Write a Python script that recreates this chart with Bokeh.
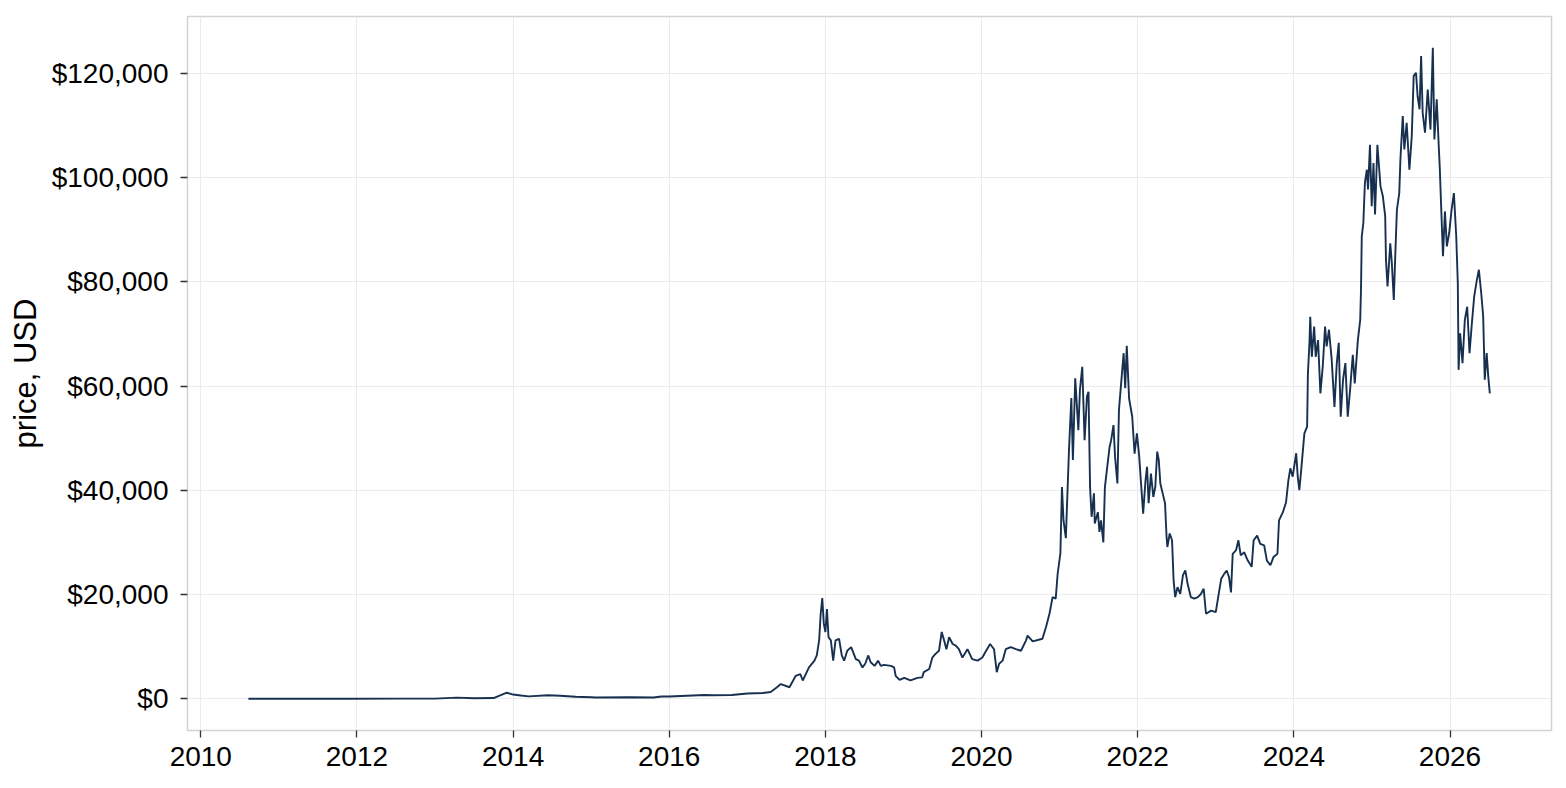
from bokeh.plotting import figure
from bokeh.models import FixedTicker, NumeralTickFormatter, Range1d
from bokeh.embed import file_html
from bokeh.resources import INLINE

# Decimal year of each observation
years = [
    2010.61, 2011.0, 2011.45, 2011.9, 2012.5, 2013.0, 2013.28, 2013.5, 2013.75, 2013.92,
    2014.0, 2014.1, 2014.2, 2014.45, 2014.6, 2014.8, 2015.0, 2015.05, 2015.5, 2015.8,
    2015.9, 2016.0, 2016.45, 2016.55, 2016.8, 2017.0, 2017.2, 2017.3, 2017.38, 2017.43,
    2017.54, 2017.62, 2017.68, 2017.71, 2017.79, 2017.86, 2017.89, 2017.92, 2017.94, 2017.96,
    2017.98, 2018.00, 2018.02, 2018.04, 2018.07, 2018.10, 2018.13, 2018.175, 2018.21, 2018.24,
    2018.28, 2018.33, 2018.39, 2018.43, 2018.475, 2018.51, 2018.55, 2018.58, 2018.63, 2018.675,
    2018.71, 2018.75, 2018.84, 2018.88, 2018.90, 2018.95, 2019.01, 2019.09, 2019.18, 2019.24,
    2019.26, 2019.33, 2019.37, 2019.41, 2019.455, 2019.49, 2019.52, 2019.55, 2019.585, 2019.63,
    2019.67, 2019.71, 2019.755, 2019.82, 2019.88, 2019.95, 2020.01, 2020.07, 2020.11, 2020.16,
    2020.195, 2020.225, 2020.27, 2020.31, 2020.375, 2020.44, 2020.505, 2020.57, 2020.59, 2020.655,
    2020.78, 2020.825, 2020.87, 2020.91, 2020.95, 2020.975, 2021.01, 2021.03, 2021.05, 2021.08,
    2021.10, 2021.12, 2021.15, 2021.17, 2021.20, 2021.24, 2021.26, 2021.29, 2021.32, 2021.35,
    2021.37, 2021.39, 2021.41, 2021.44, 2021.45, 2021.49, 2021.51, 2021.53, 2021.56, 2021.58,
    2021.61, 2021.64, 2021.66, 2021.69, 2021.71, 2021.74, 2021.76, 2021.795, 2021.82, 2021.84,
    2021.86, 2021.89, 2021.93, 2021.96, 2021.99, 2022.02, 2022.04, 2022.07, 2022.10, 2022.12,
    2022.14, 2022.17, 2022.20, 2022.225, 2022.25, 2022.27, 2022.29, 2022.32, 2022.35, 2022.37,
    2022.38, 2022.41, 2022.44, 2022.46, 2022.48, 2022.51, 2022.545, 2022.58, 2022.61, 2022.64,
    2022.68, 2022.725, 2022.77, 2022.81, 2022.845, 2022.875, 2022.94, 2023.00, 2023.045, 2023.07,
    2023.11, 2023.14, 2023.17, 2023.195, 2023.217, 2023.26, 2023.29, 2023.32, 2023.365, 2023.41,
    2023.46, 2023.485, 2023.53, 2023.57, 2023.62, 2023.655, 2023.70, 2023.74, 2023.79, 2023.81,
    2023.86, 2023.90, 2023.93, 2023.955, 2023.985, 2024.03, 2024.05, 2024.07, 2024.09, 2024.135,
    2024.17, 2024.18, 2024.20, 2024.21, 2024.23, 2024.26, 2024.28, 2024.31, 2024.34, 2024.37,
    2024.40, 2024.42, 2024.45, 2024.485, 2024.52, 2024.55, 2024.575, 2024.60, 2024.63, 2024.66,
    2024.69, 2024.72, 2024.755, 2024.78, 2024.82, 2024.85, 2024.86, 2024.87, 2024.89, 2024.91,
    2024.935, 2024.95, 2024.975, 2024.997, 2025.02, 2025.04, 2025.07, 2025.11, 2025.14, 2025.17,
    2025.18, 2025.20, 2025.235, 2025.255, 2025.28, 2025.30, 2025.32, 2025.35, 2025.365, 2025.395,
    2025.415, 2025.445, 2025.48, 2025.51, 2025.535, 2025.565, 2025.585, 2025.61, 2025.63, 2025.65,
    2025.68, 2025.715, 2025.75, 2025.78, 2025.80, 2025.83, 2025.856, 2025.87, 2025.885, 2025.91,
    2025.935, 2025.96, 2025.99, 2026.02, 2026.05, 2026.08, 2026.10, 2026.11, 2026.13, 2026.16,
    2026.19, 2026.22, 2026.25, 2026.28, 2026.31, 2026.345, 2026.37, 2026.40, 2026.425, 2026.445,
    2026.47, 2026.49, 2026.51,
]

# Price in US dollars
price_usd = [
    0.07, 0.3, 15, 3, 7, 13, 200, 90, 130, 1150,
    800, 620, 450, 650, 580, 380, 280, 220, 270, 240,
    420, 430, 700, 650, 700, 1000, 1100, 1300, 2200, 2800,
    2200, 4400, 4700, 3500, 6000, 7300, 8300, 11200, 16300, 19300,
    14400, 12800, 17200, 11800, 11200, 7300, 11200, 11500, 8300, 7300,
    9200, 9900, 7600, 7300, 6000, 6700, 8300, 7000, 6300, 7300,
    6300, 6500, 6300, 6000, 4400, 3600, 4000, 3500, 4000, 4100,
    5100, 5700, 7900, 8600, 9200, 12800, 11200, 9500, 11800, 10500,
    10200, 9500, 7900, 9500, 7600, 7300, 7900, 9500, 10500, 9500,
    5100, 6700, 7300, 9500, 9900, 9500, 9200, 11200, 12100, 11000,
    11500, 13700, 16300, 19500, 19200, 24000, 27900, 40600, 34200, 30800,
    39400, 47700, 57700, 45800, 61500, 51500, 59200, 63700, 49600, 58000,
    58900, 40600, 34900, 39400, 33600, 35800, 32000, 34200, 30000, 40600,
    44500, 48300, 49600, 52500, 46400, 41300, 55400, 61800, 66300, 59600,
    67700, 57600, 54100, 47000, 50900, 46400, 41900, 35500, 41900, 44500,
    37500, 43200, 38700, 40600, 47400, 45800, 41300, 39400, 37500, 31000,
    29100, 31700, 30400, 22700, 19500, 21400, 20100, 23700, 24600, 22000,
    19500, 19200, 19500, 20100, 21100, 16300, 16900, 16600, 20800, 23000,
    24000, 24600, 23300, 20400, 27800, 28500, 30400, 27500, 28100, 26500,
    25300, 30400, 31300, 29700, 29400, 26500, 25600, 27200, 27800, 34200,
    35800, 37700, 41900, 44200, 42600, 47100, 42600, 40000, 43200, 50900,
    52200, 62400, 68300, 73300, 65600, 71400, 65600, 68800, 58600, 63700,
    71400, 67600, 70800, 65000, 56000, 64400, 68300, 54100, 61200, 64400,
    54100, 59200, 66000, 60500, 68800, 72700, 78500, 88700, 91300, 99000,
    101500, 97700, 106300, 94500, 102800, 92900, 106300, 98300, 96400, 92600,
    84200, 79100, 87400, 83600, 76500, 85500, 93800, 97000, 103500, 111800,
    105400, 110500, 101500, 107900, 119500, 120100, 115600, 113100, 123300, 112400,
    108600, 116900, 109200, 124900, 107300, 115000, 106000, 101500, 95100, 84900,
    93500, 86800, 89400, 93800, 97000, 88700, 79700, 63100, 70100, 64400,
    72700, 75200, 66300, 72000, 77200, 80400, 82300, 77800, 73300, 61200,
    66300, 61800, 58600,
]

x_ticks = [2010, 2012, 2014, 2016, 2018, 2020, 2022, 2024, 2026]
y_ticks = [0, 20000, 40000, 60000, 80000, 100000, 120000]

FONT = "Liberation Sans"

p = figure(
    width=1566, height=788, output_backend="svg", toolbar_location=None,
    x_range=Range1d(2009.83, 2027.30), y_range=Range1d(-6100, 130900),
    min_border_left=187, min_border_right=15, min_border_top=16, min_border_bottom=58,
    background_fill_color="white", border_fill_color="white",
)

p.line(years, price_usd, line_color="#17304f", line_width=1.9)

p.xaxis.ticker = FixedTicker(ticks=x_ticks, minor_ticks=[])
p.xaxis.formatter = NumeralTickFormatter(format="0")
p.yaxis.ticker = FixedTicker(ticks=y_ticks, minor_ticks=[])
p.yaxis.formatter = NumeralTickFormatter(format="$0,0")
p.yaxis.axis_label = "price, USD"

for ax in (p.xaxis[0], p.yaxis[0]):
    ax.axis_line_color = None
    ax.major_tick_line_color = "#333333"
    ax.major_tick_line_width = 1.3
    ax.major_tick_out = 7
    ax.major_tick_in = 0
    ax.minor_tick_line_color = None
    ax.major_label_text_font = FONT
    ax.major_label_text_font_size = "28px"
    ax.major_label_text_color = "black"
    ax.axis_label_text_font = FONT
    ax.axis_label_text_font_size = "31px"
    ax.axis_label_text_font_style = "normal"
    ax.axis_label_text_color = "black"
    ax.axis_label_standoff = 6

p.yaxis.major_label_standoff = 12
p.xaxis.major_label_standoff = 9

p.xgrid.grid_line_color = "#ebebeb"
p.ygrid.grid_line_color = "#ebebeb"
p.xgrid.grid_line_width = 1.1
p.ygrid.grid_line_width = 1.1

p.outline_line_color = "#d2d2d2"
p.outline_line_width = 1.5

open("out.html", "w").write(file_html(p, INLINE))
